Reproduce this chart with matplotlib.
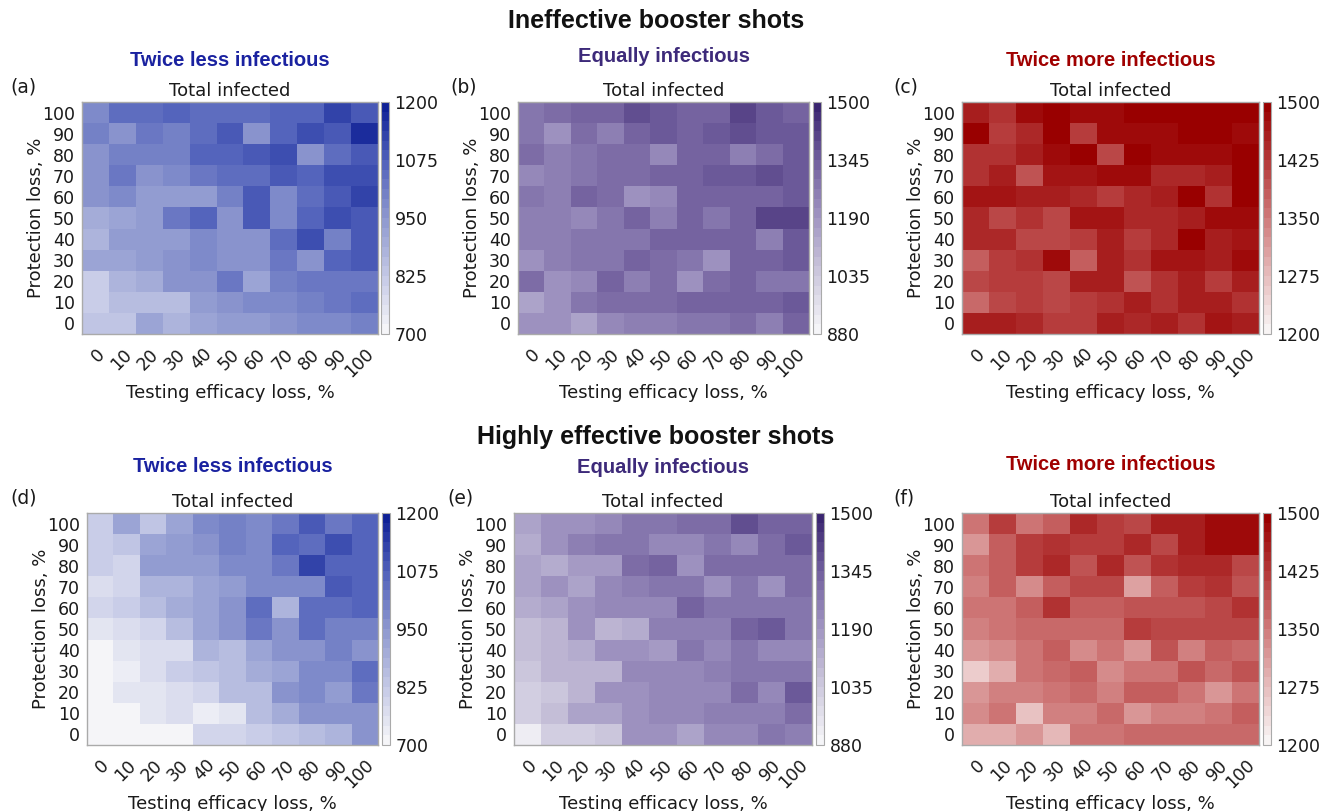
import numpy as np
import matplotlib
matplotlib.use("Agg")
import matplotlib.pyplot as plt
from matplotlib.colors import LinearSegmentedColormap, ListedColormap

levels = [0, 10, 20, 30, 40, 50, 60, 70, 80, 90, 100]
tick_labels = [str(v) for v in levels]

# rows listed from protection loss 100 (top) down to 0 (bottom); columns testing loss 0..100
a_vals = [
    [990, 1040, 1050, 1070, 1050, 1050, 1050, 1060, 1070, 1130, 1080],
    [1000, 960, 1020, 1010, 1040, 1080, 970, 1070, 1110, 1080, 1170],
    [970, 1010, 1010, 1000, 1060, 1060, 1080, 1100, 970, 1050, 1090],
    [970, 1030, 960, 990, 1030, 1040, 1040, 1090, 1060, 1100, 1100],
    [950, 980, 940, 940, 940, 1010, 1080, 980, 1050, 1080, 1120],
    [900, 910, 940, 1030, 1060, 960, 1080, 990, 1060, 1100, 1080],
    [870, 940, 940, 940, 990, 960, 970, 1040, 1110, 1000, 1090],
    [910, 910, 930, 950, 980, 970, 970, 1020, 970, 1060, 1090],
    [820, 870, 890, 950, 950, 1020, 910, 1000, 1030, 1030, 1030],
    [820, 860, 860, 850, 940, 970, 990, 990, 1010, 1030, 1040],
    [840, 840, 910, 870, 910, 940, 940, 970, 980, 980, 1000],
]
b_vals = [
    [1280, 1310, 1330, 1330, 1380, 1350, 1320, 1340, 1400, 1350, 1340],
    [1290, 1200, 1310, 1260, 1330, 1370, 1320, 1360, 1380, 1350, 1370],
    [1310, 1260, 1290, 1300, 1300, 1230, 1330, 1320, 1260, 1310, 1350],
    [1230, 1260, 1280, 1300, 1300, 1340, 1340, 1360, 1360, 1390, 1360],
    [1280, 1260, 1320, 1300, 1200, 1240, 1330, 1330, 1330, 1330, 1350],
    [1250, 1250, 1240, 1270, 1320, 1250, 1330, 1280, 1330, 1400, 1400],
    [1250, 1250, 1290, 1290, 1290, 1320, 1340, 1340, 1340, 1250, 1360],
    [1200, 1260, 1280, 1280, 1320, 1310, 1270, 1210, 1330, 1330, 1370],
    [1300, 1190, 1240, 1330, 1250, 1300, 1210, 1300, 1330, 1280, 1280],
    [1150, 1210, 1280, 1300, 1300, 1300, 1320, 1320, 1340, 1340, 1370],
    [1210, 1210, 1150, 1220, 1250, 1250, 1270, 1270, 1300, 1250, 1340],
]
c_vals = [
    [1450, 1430, 1475, 1500, 1480, 1480, 1500, 1500, 1500, 1500, 1500],
    [1500, 1420, 1440, 1500, 1420, 1480, 1480, 1480, 1500, 1500, 1480],
    [1430, 1430, 1450, 1480, 1500, 1400, 1500, 1480, 1480, 1480, 1500],
    [1430, 1450, 1390, 1470, 1470, 1480, 1480, 1440, 1440, 1460, 1500],
    [1470, 1470, 1450, 1460, 1440, 1420, 1440, 1460, 1500, 1430, 1500],
    [1440, 1410, 1430, 1400, 1470, 1470, 1440, 1440, 1460, 1480, 1480],
    [1440, 1440, 1410, 1410, 1420, 1450, 1420, 1440, 1490, 1460, 1470],
    [1380, 1420, 1430, 1480, 1380, 1450, 1430, 1470, 1470, 1450, 1480],
    [1400, 1420, 1420, 1400, 1460, 1460, 1390, 1430, 1450, 1420, 1450],
    [1370, 1410, 1420, 1410, 1420, 1430, 1460, 1430, 1450, 1450, 1430],
    [1450, 1450, 1440, 1420, 1420, 1460, 1440, 1450, 1430, 1470, 1450],
]
d_vals = [
    [810, 910, 830, 920, 990, 1010, 990, 1030, 1080, 1030, 1060],
    [810, 830, 920, 930, 970, 1010, 980, 1060, 1050, 1100, 1070],
    [810, 790, 930, 930, 930, 980, 990, 1020, 1120, 1060, 1060],
    [780, 800, 870, 880, 920, 940, 990, 990, 990, 1080, 1060],
    [800, 810, 850, 890, 920, 950, 1040, 880, 1040, 1040, 1060],
    [750, 780, 800, 860, 920, 950, 1020, 960, 1050, 1010, 1010],
    [720, 750, 770, 780, 880, 850, 920, 960, 960, 1010, 970],
    [720, 740, 780, 810, 830, 860, 890, 910, 990, 990, 1040],
    [720, 750, 750, 770, 800, 860, 860, 950, 980, 930, 1020],
    [710, 710, 760, 780, 730, 760, 860, 900, 960, 950, 950],
    [710, 710, 720, 720, 790, 790, 820, 840, 860, 880, 950],
]
e_vals = [
    [1160, 1190, 1190, 1240, 1270, 1270, 1300, 1300, 1390, 1330, 1330],
    [1130, 1200, 1250, 1270, 1270, 1240, 1240, 1290, 1220, 1300, 1360],
    [1160, 1120, 1180, 1180, 1300, 1330, 1200, 1300, 1300, 1300, 1300],
    [1150, 1190, 1150, 1220, 1260, 1280, 1280, 1200, 1290, 1210, 1300],
    [1120, 1140, 1200, 1230, 1230, 1220, 1320, 1270, 1270, 1290, 1290],
    [1080, 1090, 1200, 1100, 1130, 1250, 1250, 1250, 1320, 1350, 1290],
    [1070, 1090, 1120, 1210, 1210, 1170, 1280, 1240, 1280, 1230, 1230],
    [1040, 1090, 1110, 1110, 1240, 1240, 1240, 1260, 1290, 1280, 1280],
    [1010, 1060, 1090, 1200, 1200, 1230, 1230, 1220, 1300, 1230, 1360],
    [1020, 1080, 1150, 1150, 1190, 1220, 1220, 1260, 1260, 1260, 1300],
    [920, 1010, 1010, 1060, 1200, 1200, 1140, 1230, 1230, 1290, 1250],
]
f_vals = [
    [1360, 1420, 1350, 1380, 1440, 1420, 1400, 1450, 1450, 1480, 1480],
    [1320, 1380, 1420, 1430, 1420, 1420, 1440, 1400, 1450, 1480, 1480],
    [1360, 1380, 1420, 1440, 1390, 1440, 1390, 1430, 1440, 1440, 1410],
    [1340, 1380, 1330, 1380, 1410, 1410, 1310, 1380, 1420, 1430, 1390],
    [1360, 1360, 1380, 1430, 1380, 1380, 1390, 1390, 1390, 1400, 1430],
    [1340, 1360, 1370, 1370, 1370, 1370, 1420, 1400, 1400, 1410, 1410],
    [1320, 1330, 1350, 1380, 1330, 1350, 1320, 1390, 1340, 1380, 1370],
    [1250, 1290, 1350, 1370, 1380, 1330, 1360, 1360, 1390, 1370, 1390],
    [1320, 1340, 1340, 1360, 1370, 1340, 1380, 1380, 1360, 1320, 1360],
    [1330, 1350, 1270, 1340, 1340, 1370, 1320, 1340, 1340, 1360, 1380],
    [1290, 1290, 1320, 1280, 1360, 1360, 1370, 1370, 1370, 1370, 1370],
]

ranges = {"blue": (700, 1200), "purple": (880, 1500), "red": (1200, 1500)}
cbar_ticks = {"blue": [700, 825, 950, 1075, 1200],
              "purple": [880, 1035, 1190, 1345, 1500],
              "red": [1200, 1275, 1350, 1425, 1500]}
cmap_stops = {"blue": ["#f5f5f8", "#c2c7e5", "#8e98cf", "#5262bb", "#0f2196"],
              "purple": ["#f5f5f8", "#cdc8dd", "#a196c2", "#73619f", "#3a2570"],
              "red": ["#f8f4f4", "#e6baba", "#cf7a7a", "#b53a3a", "#990000"]}
title_col = {"blue": "#1a22a0", "purple": "#3d2a7a", "red": "#a00000"}
subtitles = {"blue": "Twice less infectious", "purple": "Equally infectious",
             "red": "Twice more infectious"}

W, H = 1329, 811
fig = plt.figure(figsize=(W / 100, H / 100), dpi=100)
fig.patch.set_facecolor("white")

def px_axes(x0, y0, x1, y1):
    return fig.add_axes([x0 / W, 1 - y1 / H, (x1 - x0) / W, (y1 - y0) / H])

def make_cmap(name):
    base = LinearSegmentedColormap.from_list(name, cmap_stops[name])
    return ListedColormap(base(np.linspace(0, 1, 24)))

panels = [
    ("(a)", a_vals, "blue", (82, 102, 378, 334), (381, 389), 61, 10),
    ("(b)", b_vals, "purple", (518, 102, 809, 334), (813, 821), 57, 450),
    ("(c)", c_vals, "red", (962, 102, 1259, 334), (1263, 1271), 61, 893),
    ("(d)", d_vals, "blue", (87, 513, 378, 745), (382, 390), 467, 10),
    ("(e)", e_vals, "purple", (514, 513, 812, 745), (816, 824), 468, 447),
    ("(f)", f_vals, "red", (962, 513, 1259, 745), (1263, 1271), 465, 893),
]

for lab, vals, cname, (x0, y0, x1, y1), (cx0, cx1), ty, lx in panels:
    ax = px_axes(x0, y0, x1, y1)
    arr = np.array(vals, dtype=float)[::-1]  # row 0 -> protection loss 0
    vmin, vmax = ranges[cname]
    cmap = make_cmap(cname)
    im = ax.pcolormesh(np.arange(12) - 0.5, np.arange(12) - 0.5, arr,
                       cmap=cmap, vmin=vmin, vmax=vmax)
    ax.set_xlim(-0.5, 10.5)
    ax.set_ylim(-0.5, 10.5)
    ax.set_xticks(range(11))
    ax.set_yticks(range(11))
    ax.set_xticklabels(tick_labels, rotation=45, ha="right", va="top",
                       rotation_mode="anchor", fontsize=12.5, color="#1a1a1a")
    ax.set_yticklabels(tick_labels, fontsize=12.5, color="#1a1a1a")
    ax.tick_params(length=0, pad=5)
    ax.tick_params(axis="x", pad=8)
    for s in ax.spines.values():
        s.set_color("#aaaaaa")
        s.set_linewidth(1.0)
    ax.set_ylabel("Protection loss, %", fontsize=13, color="#1a1a1a", labelpad=-2)
    ax.set_xlabel("Testing efficacy loss, %", fontsize=13, color="#1a1a1a", labelpad=2)
    ax.set_title("Total infected", fontsize=13, color="#1a1a1a", pad=4)

    cax = px_axes(cx0, y0, cx1, y1)
    cb = fig.colorbar(im, cax=cax, ticks=cbar_ticks[cname])
    cb.outline.set_edgecolor("#aaaaaa")
    cb.ax.tick_params(length=0, labelsize=12.5, pad=4, colors="#1a1a1a")

    xc = (x0 + x1) / 2
    fig.text(xc / W, 1 - ty / H, subtitles[cname], ha="center", va="center",
             fontsize=14.5, fontweight="bold", color=title_col[cname],
             family="Liberation Sans")
    fig.text(lx / W, 1 - (y0 - 15) / H, lab,
             ha="left", va="center", fontsize=13.5, color="#1a1a1a")

fig.text(656 / W, 1 - 21 / H, "Ineffective booster shots", ha="center", va="center",
         fontsize=18, fontweight="bold", color="#111111", family="Liberation Sans")
fig.text(656 / W, 1 - 437 / H, "Highly effective booster shots", ha="center", va="center",
         fontsize=18, fontweight="bold", color="#111111", family="Liberation Sans")

fig.savefig("out.png", dpi=100)
